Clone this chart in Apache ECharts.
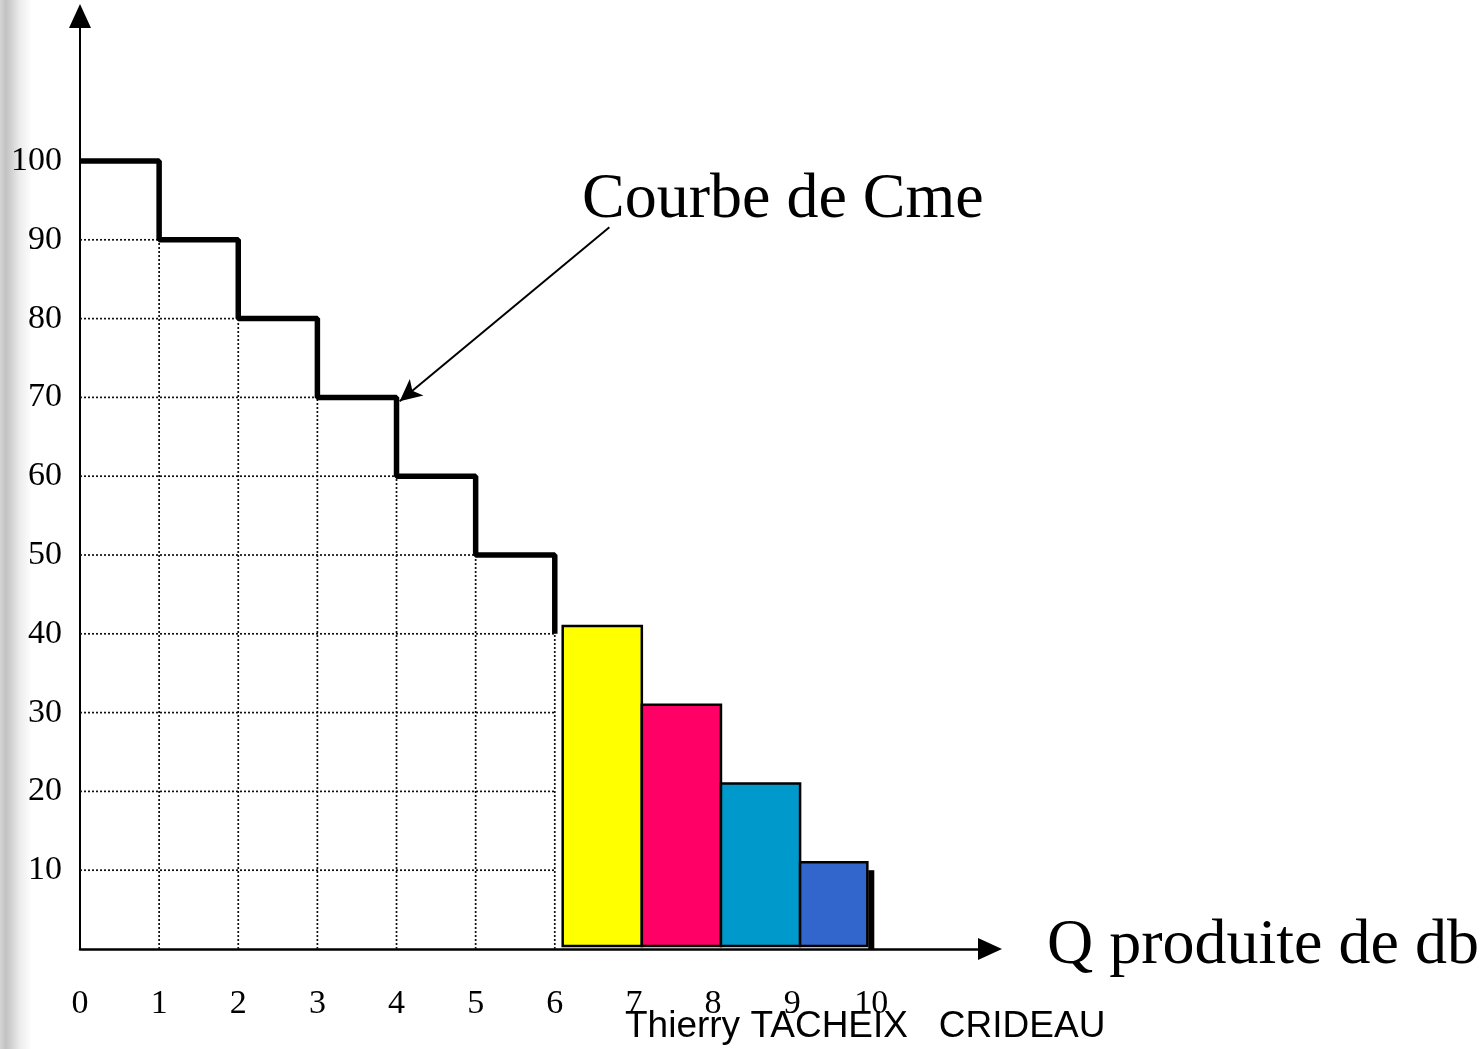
<!DOCTYPE html>
<html>
<head>
<meta charset="utf-8">
<title>Courbe de Cme</title>
<script src="https://cdn.jsdelivr.net/npm/echarts@6/dist/echarts.min.js"></script>
<style>
  html, body { margin: 0; padding: 0; }
  body {
    width: 1484px; height: 1049px; overflow: hidden;
    background: linear-gradient(to right, #d4d4d4 0px, #c2c2c2 6px, #ececec 20px, #ffffff 32px);
  }
  #main { width: 1484px; height: 1049px; }
</style>
</head>
<body>
<div id="main"></div>
<script>
// courbe en escalier du coût moyen (Cme)
var stepQ = [0, 1, 2, 3, 4, 5, 6];
var stepCost = [100, 90, 80, 70, 60, 50, 40];

// barres colorées après la 6e unité
var barStart = [6.1, 7.1, 8.1, 9.1];
var barEnd = [7.1, 8.1, 9.1, 9.95];
var barCost = [41, 31, 21, 11];
var barColors = ["#ffff00", "#ff0066", "#0099cc", "#3366cc"];

// trait final à Q = 10
var endQ = [10, 10];
var endCost = [10, 0];

// flèche de l'annotation (coordonnées des données)
var arrowFrom = [6.69, 91.6];
var arrowTo = [4.04, 69.5];

var xTicks = [0, 1, 2, 3, 4, 5, 6, 7, 8, 9, 10];
var yTicks = [10, 20, 30, 40, 50, 60, 70, 80, 90, 100];

var myChart = echarts.init(document.getElementById("main"));

// quadrillage pointillé sous l'escalier
var gridSegs = [];
for (var i = 1; i < yTicks.length; i++) {
  var lvl = yTicks[i - 1];
  var reach = 6;
  for (var k = 0; k < stepQ.length; k++) {
    if (stepCost[k] <= lvl) { reach = stepQ[k]; break; }
  }
  gridSegs.push([0, lvl, reach, lvl]);
}
for (var k = 1; k < stepQ.length; k++) {
  gridSegs.push([stepQ[k], 0, stepQ[k], stepCost[k]]);
}

var barData = [];
for (var b = 0; b < barCost.length; b++) {
  barData.push([barStart[b], barEnd[b], barCost[b], b]);
}

var serif = "'Liberation Serif', 'Times New Roman', serif";

var option = {
  animation: false,
  grid: { left: 80, right: 494, top: 16, bottom: 100 },
  xAxis: {
    type: "value",
    min: 0,
    max: 11.5,
    interval: 1,
    axisLine: {
      lineStyle: { color: "#000", width: 2.5 },
      symbol: ["none", "triangle"],
      symbolSize: [22, 24]
    },
    axisTick: { show: false },
    splitLine: { show: false },
    axisLabel: {
      color: "#000",
      fontFamily: serif,
      fontSize: 34,
      margin: 38,
      showMaxLabel: false,
      formatter: function (v) { return xTicks.indexOf(v) >= 0 ? String(v) : ""; }
    }
  },
  yAxis: {
    type: "value",
    min: 0,
    max: 118.4,
    interval: 10,
    axisLine: {
      show: true,
      lineStyle: { color: "#000", width: 2 },
      symbol: ["none", "triangle"],
      symbolSize: [22, 24]
    },
    axisTick: { show: false },
    splitLine: { show: false },
    axisLabel: {
      color: "#000",
      fontFamily: serif,
      fontSize: 34,
      margin: 18,
      showMaxLabel: false,
      formatter: function (v) { return yTicks.indexOf(v) >= 0 ? String(v) : ""; }
    }
  },
  series: [
    {
      type: "custom",
      silent: true,
      data: gridSegs,
      z: 1,
      renderItem: function (params, api) {
        var p1 = api.coord([api.value(0), api.value(1)]);
        var p2 = api.coord([api.value(2), api.value(3)]);
        return {
          type: "line",
          shape: { x1: p1[0], y1: p1[1], x2: p2[0], y2: p2[1] },
          style: { stroke: "#111", lineWidth: 1.7, lineDash: [2, 2] }
        };
      }
    },
    {
      type: "custom",
      silent: true,
      data: barData,
      z: 3,
      renderItem: function (params, api) {
        var p0 = api.coord([api.value(0), 0]);
        var p1 = api.coord([api.value(1), api.value(2)]);
        return {
          type: "rect",
          shape: { x: p0[0], y: p1[1], width: p1[0] - p0[0], height: p0[1] - p1[1] - 3 },
          style: { fill: barColors[api.value(3)], stroke: "#000", lineWidth: 2.5 }
        };
      }
    },
    {
      type: "line",
      step: "end",
      data: stepQ.map(function (q, i) { return [q, stepCost[i]]; }),
      symbol: "none",
      z: 4,
      lineStyle: { color: "#000", width: 5.5 },
      markLine: {
        silent: true,
        symbol: ["none", "arrow"],
        symbolSize: [16, 22],
        label: { show: false },
        lineStyle: { color: "#000", width: 2, type: "solid" },
        data: [[{ coord: arrowFrom }, { coord: arrowTo }]]
      }
    },
    {
      type: "line",
      data: endQ.map(function (q, i) { return [q, endCost[i]]; }),
      symbol: "none",
      z: 4,
      lineStyle: { color: "#000", width: 6 }
    }
  ],
  graphic: [
    {
      type: "text",
      x: 582,
      y: 200,
      style: { text: "Courbe de Cme", fontFamily: serif, fontSize: 64, fill: "#000", verticalAlign: "middle" }
    },
    {
      type: "text",
      x: 1047,
      y: 946,
      style: { text: "Q produite de db", fontFamily: serif, fontSize: 64, fill: "#000", verticalAlign: "middle" }
    },
    {
      type: "text",
      x: 625,
      y: 1027,
      z: 10,
      style: {
        text: "Thierry TACHEIX   CRIDEAU",
        fontFamily: "'Liberation Sans', Arial, sans-serif",
        fontSize: 37,
        fill: "#000",
        verticalAlign: "middle"
      }
    }
  ]
};

myChart.setOption(option);
</script>
</body>
</html>
